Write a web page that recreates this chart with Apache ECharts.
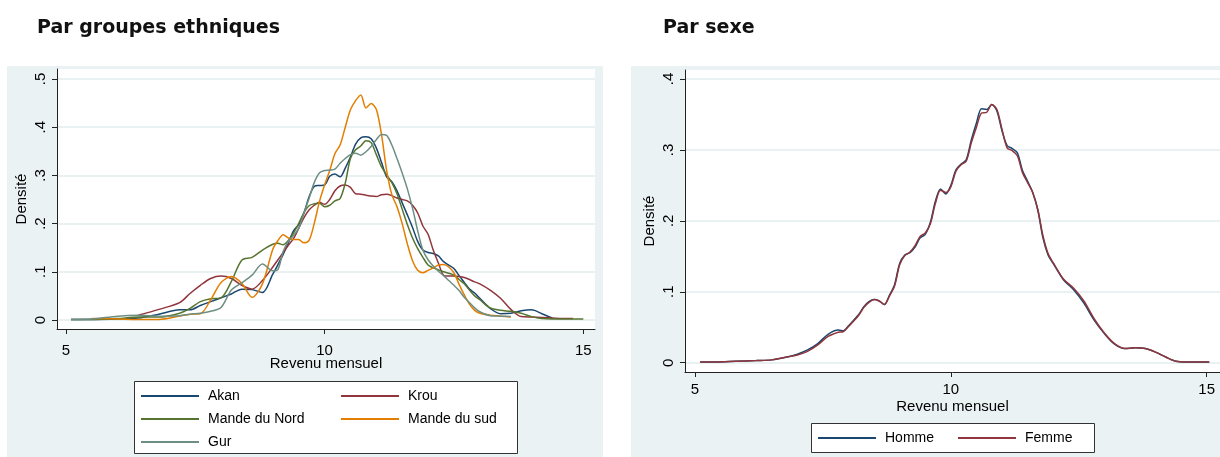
<!DOCTYPE html>
<html>
<head>
<meta charset="utf-8">
<script src="https://cdn.jsdelivr.net/npm/echarts@6/dist/echarts.min.js"></script>
<style>
  html, body { margin: 0; padding: 0; background: #fff; }
  #chart { width: 1220px; height: 457px; }
</style>
</head>
<body>
<div id="chart"></div>
<script>
// Revenu mensuel (log) — densités par groupe ethnique et par sexe

// Panneau gauche : groupes ethniques
const xEthnie = [5.1, 5.5, 6.0, 6.4, 6.8, 7.2, 7.4, 7.6, 7.8, 8.0, 8.2, 8.4, 8.6, 8.8, 9.0, 9.1, 9.2, 9.3, 9.4, 9.5,
  9.6, 9.7, 9.8, 9.9, 10.0, 10.1, 10.2, 10.3, 10.4, 10.5, 10.6, 10.7, 10.8, 10.9, 11.0, 11.1, 11.2, 11.3, 11.4, 11.5,
  11.6, 11.7, 11.8, 11.9, 12.0, 12.1, 12.2, 12.3, 12.4, 12.5, 12.6, 12.7, 12.8, 12.9, 13.0, 13.2, 13.4, 13.6, 13.8, 14.0,
  14.2, 14.4, 14.6, 14.8, 15.0];

const akan = [.001, .001, .002, .004, .012, .021, .021, .030, .038, .046, .054, .064, .063, .057, .095, .115, .136, .160, .185, .198,
  .222, .255, .277, .279, .280, .298, .303, .297, .315, .338, .365, .378, .380, .376, .357, .327, .297, .287, .268, .243,
  .218, .192, .163, .145, .140, .138, .133, .121, .114, .107, .092, .078, .064, .056, .045, .024, .013, .014, .019, .021,
  .013, .004, null, null, null];

const krou = [null, null, null, .010, .022, .036, .055, .072, .086, .091, .086, .072, .064, .082, .110, .125, .140, .155, .169, .190,
  .212, .228, .238, .244, .240, .250, .268, .278, .280, .275, .262, .261, .259, .257, .256, .260, .261, .258, .253, .250,
  .247, .238, .222, .195, .178, .145, .118, .093, .091, .091, .090, .088, .084, .079, .075, .062, .045, .022, .007, .006,
  .005, .004, .003, .003, null];

const mandeNord = [.001, .001, .003, .006, .006, .014, .024, .038, .044, .046, .080, .124, .130, .145, .157, .159, .156, .165, .180, .200,
  .222, .237, .241, .242, .235, .238, .247, .252, .284, .335, .353, .361, .372, .368, .343, .318, .301, .285, .262, .230,
  .198, .170, .148, .130, .114, .108, .104, .100, .097, .093, .084, .075, .062, .050, .042, .025, .020, .018, .014, .007,
  .003, .002, .002, .002, .002];

const mandeSud = [null, .003, .002, .001, .001, .008, .012, .013, .042, .078, .090, .076, .047, .075, .147, .165, .177, .170, .167, .167,
  .160, .165, .200, .245, .280, .310, .345, .363, .400, .436, .455, .467, .440, .449, .437, .385, .310, .260, .235, .200,
  .158, .123, .103, .098, .103, .108, .114, .115, .110, .098, .074, .052, .033, .020, .014, .010, .008, .006, null, null,
  null, null, null, null, null];

const gur = [.001, .002, .008, .010, .008, .009, .012, .014, .018, .026, .062, .077, .093, .116, .102, .105, .142, .163, .175, .190,
  .221, .252, .285, .305, .310, .311, .313, .325, .335, .343, .346, .342, .349, .360, .374, .385, .383, .363, .335, .305,
  .272, .232, .185, .145, .125, .112, .101, .092, .082, .072, .061, .047, .036, .025, .017, .009, .008, .007, null, null,
  null, null, null, null, null];

// Panneau droit : sexe
const xSexe = [5.1, 5.4, 5.8, 6.2, 6.5, 6.8, 7.0, 7.2, 7.4, 7.6, 7.8, 7.9, 8.0, 8.2, 8.3, 8.4, 8.5, 8.6, 8.7, 8.8,
  8.9, 9.0, 9.1, 9.2, 9.3, 9.4, 9.5, 9.6, 9.7, 9.8, 9.9, 10.0, 10.1, 10.2, 10.3, 10.4, 10.5, 10.6, 10.7, 10.8,
  10.9, 11.0, 11.1, 11.2, 11.3, 11.4, 11.5, 11.6, 11.7, 11.8, 11.9, 12.0, 12.2, 12.4, 12.6, 12.8, 13.0, 13.2, 13.4, 13.6,
  13.8, 14.0, 14.2, 14.4, 14.6, 14.8, 15.05];

const homme = [.001, .001, .002, .003, .004, .008, .012, .018, .027, .040, .046, .045, .052, .068, .079, .086, .089, .087, .082, .095,
  .110, .140, .152, .155, .163, .176, .181, .198, .228, .245, .238, .250, .272, .280, .286, .314, .338, .358, .357, .364,
  .355, .327, .306, .302, .296, .271, .256, .240, .215, .176, .152, .140, .117, .103, .084, .060, .041, .026, .020, .021,
  .020, .015, .008, .002, .001, .001, .001];

const femme = [.001, .001, .002, .003, .004, .008, .011, .016, .025, .037, .043, .044, .051, .067, .078, .085, .089, .087, .082, .094,
  .108, .138, .151, .156, .165, .178, .183, .196, .225, .243, .240, .248, .270, .279, .284, .310, .332, .352, .353, .364,
  .357, .329, .303, .299, .292, .268, .254, .240, .216, .179, .154, .141, .118, .105, .087, .062, .042, .027, .020, .021,
  .020, .015, .008, .002, .001, .001, .001];

// Graduations
const xTicks = [5, 10, 15];
const yTicksEthnie = [0, 0.1, 0.2, 0.3, 0.4, 0.5];
const yTicksSexe = [0, 0.1, 0.2, 0.3, 0.4];

const colors = {
  navy: '#1a476f', maroon: '#90353b', forest: '#55752f', orange: '#e37e00', teal: '#6e8e84'
};

const FONT = "'Liberation Sans', Arial, sans-serif";
const TITLE_FONT = "'DejaVu Sans', sans-serif";
const AXIS_COLOR = '#222';
const GRID_COLOR = '#e3ecee';
const PANEL_BG = '#eaf2f3';

function pairs(xs, ys) {
  return xs.map((x, i) => [x, ys[i]]);
}

function stripZero(v) {
  return v === 0 ? '0' : String(v).replace(/^0\./, '.');
}

function xAxisOpt(gridIndex, min, max, labelMargin, nameGap) {
  return {
    type: 'value', gridIndex, min, max,
    name: 'Revenu mensuel', nameLocation: 'middle', nameGap, nameMoveOverlap: false,
    nameTextStyle: { fontFamily: FONT, fontSize: 15, color: '#000' },
    axisLine: { show: true, onZero: false, lineStyle: { color: AXIS_COLOR, width: 1 } },
    axisTick: { show: true, length: 5, customValues: xTicks, lineStyle: { color: AXIS_COLOR } },
    axisLabel: { customValues: xTicks, margin: labelMargin, fontFamily: FONT, fontSize: 15, color: '#000' },
    splitLine: { show: false }
  };
}

function yAxisOpt(gridIndex, min, max, ticks) {
  return {
    type: 'value', gridIndex, min, max,
    name: 'Densité', nameLocation: 'middle', nameGap: 28, nameRotate: 90,
    nameTextStyle: { fontFamily: FONT, fontSize: 15, color: '#000' },
    axisLine: { show: true, onZero: false, lineStyle: { color: AXIS_COLOR, width: 1 } },
    axisTick: { show: true, length: 5, customValues: ticks, lineStyle: { color: AXIS_COLOR } },
    axisLabel: { customValues: ticks, rotate: 90, margin: 9, fontFamily: FONT, fontSize: 15, color: '#000',
      formatter: stripZero },
    splitLine: { show: true, lineStyle: { color: GRID_COLOR, width: 1.5 } }
  };
}

function lineSeries(name, xs, ys, color, axisIndex) {
  return {
    type: 'line', name, data: pairs(xs, ys),
    xAxisIndex: axisIndex, yAxisIndex: axisIndex,
    showSymbol: false, symbol: 'none', smooth: 0.3, connectNulls: false,
    lineStyle: { color, width: 1.5 }, itemStyle: { color },
    emphasis: { disabled: true }, animation: false
  };
}

const legendText = { fontFamily: FONT, fontSize: 14, color: '#000', lineHeight: 16, padding: [0, 0, 0, 4] };

function legendOpt(names, orient, left, top, itemGap) {
  return {
    data: names, orient, left, top, padding: 0, height: 80, width: 300,
    icon: 'rect', itemWidth: 58, itemHeight: 2, itemGap,
    textStyle: legendText, selectedMode: false
  };
}

const option = {
  backgroundColor: '#fff',
  animation: false,
  title: [
    { text: 'Par groupes ethniques', left: 32, top: 14, padding: 5,
      textStyle: { fontFamily: TITLE_FONT, fontWeight: 'bold', fontSize: 19, color: '#111' } },
    { text: 'Par sexe', left: 658, top: 14, padding: 5,
      textStyle: { fontFamily: TITLE_FONT, fontWeight: 'bold', fontSize: 19, color: '#111' } }
  ],
  graphic: [
    { type: 'rect', z: -10, shape: { x: 7, y: 66, width: 596, height: 391 }, style: { fill: PANEL_BG } },
    { type: 'rect', z: -10, shape: { x: 631, y: 66, width: 589, height: 391 }, style: { fill: PANEL_BG } },
    { type: 'rect', z: 1, shape: { x: 134.5, y: 381.5, width: 383, height: 72 },
      style: { fill: '#fff', stroke: '#333', lineWidth: 1 } },
    { type: 'rect', z: 1, shape: { x: 811.5, y: 423.5, width: 283, height: 29 },
      style: { fill: '#fff', stroke: '#333', lineWidth: 1 } }
  ],
  grid: [
    { left: 57, top: 69, width: 538, height: 260, show: true, backgroundColor: '#fff', borderWidth: 0 },
    { left: 685, top: 70, width: 535, height: 302, show: true, backgroundColor: '#fff', borderWidth: 0 }
  ],
  xAxis: [
    xAxisOpt(0, 4.83, 15.226, 14, 27),
    xAxisOpt(1, 4.805, 15.26, 10, 27)
  ],
  yAxis: [
    yAxisOpt(0, -0.0187, 0.5207, yTicksEthnie),
    yAxisOpt(1, -0.0131, 0.4127, yTicksSexe)
  ],
  legend: [
    legendOpt(['Akan', 'Mande du Nord', 'Gur'], 'vertical', 141, 388, 7),
    legendOpt(['Krou', 'Mande du sud'], 'vertical', 341, 388, 7),
    legendOpt(['Homme', 'Femme'], 'horizontal', 818, 430, 24)
  ],
  series: [
    lineSeries('Akan', xEthnie, akan, colors.navy, 0),
    lineSeries('Krou', xEthnie, krou, colors.maroon, 0),
    lineSeries('Mande du Nord', xEthnie, mandeNord, colors.forest, 0),
    lineSeries('Mande du sud', xEthnie, mandeSud, colors.orange, 0),
    lineSeries('Gur', xEthnie, gur, colors.teal, 0),
    lineSeries('Homme', xSexe, homme, colors.navy, 1),
    lineSeries('Femme', xSexe, femme, colors.maroon, 1)
  ]
};

const chart = echarts.init(document.getElementById('chart'), null, { renderer: 'canvas' });
chart.setOption(option);
</script>
</body>
</html>
